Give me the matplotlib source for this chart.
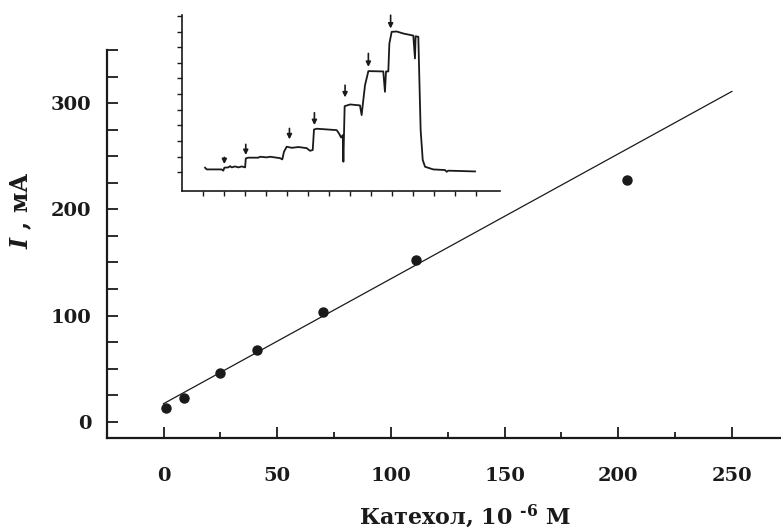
import matplotlib.pyplot as plt
from matplotlib.ticker import FixedLocator, NullFormatter

# calibration points: catechol concentration (10^-6 M) vs current
conc = [1, 9, 25, 41, 70, 111, 204]
current = [13, 22, 46, 68, 103, 152, 228]

# straight calibration line (end points)
fit_x = [0, 250]
fit_y = [17, 311]

# inset: amperometric trace, time / current in tick units
trace_t = [1.11, 1.19, 1.90, 1.98, 2.03, 2.22, 2.30, 2.38, 2.54, 2.70, 2.86, 3.02,
           3.05, 3.17, 3.65, 3.73, 4.05, 4.21, 4.68, 4.79, 4.87, 5.00, 5.24, 5.56,
           5.95, 6.11, 6.24, 6.30, 6.43, 7.38, 7.49, 7.59, 7.67, 7.70, 7.73, 7.76,
           8.02, 8.49, 8.57, 8.62, 8.73, 8.89, 9.60, 9.68, 9.73, 9.84, 9.89, 10.00,
           10.24, 10.56, 11.03, 11.11, 11.14, 11.27, 11.32, 11.38, 11.48, 11.59,
           11.98, 12.54, 12.62, 12.70, 13.97]
trace_i = [0.30, 0.19, 0.19, 0.11, 0.30, 0.32, 0.40, 0.32, 0.38, 0.32, 0.38, 0.32,
           0.89, 0.94, 0.94, 1.00, 0.96, 1.00, 0.91, 0.83, 1.32, 1.64, 1.57, 1.62,
           1.55, 1.38, 1.43, 2.74, 2.79, 2.70, 2.49, 2.23, 2.38, 0.68, 2.49, 4.23,
           4.34, 4.28, 3.66, 4.28, 5.57, 6.47, 6.45, 5.15, 6.45, 6.45, 8.23, 8.98,
           9.00, 8.87, 8.74, 7.28, 8.70, 8.66, 5.89, 2.70, 0.79, 0.36,
           0.19, 0.15, 0.04, 0.11, 0.06]

# injection arrows: position, top, tip
arrow_t = [2.03, 3.05, 5.13, 6.32, 7.78, 8.89, 9.95]
arrow_top = [0.96, 1.79, 2.81, 3.81, 5.57, 7.60, 10.04]
arrow_tip = [0.53, 1.11, 2.11, 3.02, 4.79, 6.74, 9.19]

ink = '#1a1a1a'
plt.rcParams['font.family'] = 'DejaVu Serif'
plt.rcParams['font.weight'] = 'bold'
plt.rcParams['mathtext.fontset'] = 'dejavuserif'
plt.rcParams['mathtext.default'] = 'bf'

fig = plt.figure(figsize=(7.81, 5.29), dpi=100)
ax = fig.add_axes([0.1366, 0.172, 0.8634, 0.7335])
ax.set_facecolor('none')

ax.plot(fit_x, fit_y, color=ink, lw=0.9)
ax.plot(conc, current, 'o', color=ink, markersize=6.5)

ax.set_xlim(-25, 271.6)
ax.set_ylim(-15.3, 350)
for s in ['top', 'right']:
    ax.spines[s].set_visible(False)
for s in ['left', 'bottom']:
    ax.spines[s].set_linewidth(1.6)
    ax.spines[s].set_color(ink)

ax.xaxis.set_major_locator(FixedLocator([0, 50, 100, 150, 200, 250]))
ax.xaxis.set_minor_locator(FixedLocator([25, 75, 125, 175, 225]))
ax.yaxis.set_major_locator(FixedLocator([0, 100, 200, 300]))
ax.yaxis.set_minor_locator(FixedLocator([25, 50, 75, 125, 150, 175, 225, 250, 275, 325, 350]))
ax.yaxis.set_minor_formatter(NullFormatter())
ax.tick_params(axis='x', which='major', direction='in', length=8, width=1.3, color=ink,
               pad=21, labelsize=14)
ax.tick_params(axis='x', which='minor', direction='in', length=4, width=1.3, color=ink)
ax.tick_params(axis='y', which='both', direction='in', length=8, width=1.3, color=ink,
               pad=11, labelsize=14)
for lab in ax.get_xticklabels() + ax.get_yticklabels():
    lab.set_fontweight('bold')
    lab.set_color(ink)

fig.text(465 / 781, 1 - 524 / 529, 'Катехол, 10 $^{\u20106}$ М', ha='center', va='baseline',
         fontsize=16, fontweight='bold', color=ink)
fig.text(21 / 781, 1 - 210 / 529, r'$\mathbfit{I}$ , мА', ha='center', va='center',
         rotation=90, fontsize=17, fontweight='bold', color=ink)

# inset with the current trace
ins = fig.add_axes([0.2327, 0.6395, 0.4075, 0.332])
ins.set_facecolor('none')
ins.plot(trace_t, trace_i, color=ink, lw=1.3)
for t, top, tip in zip(arrow_t, arrow_top, arrow_tip):
    ins.annotate('', xy=(t, tip), xytext=(t, top),
                 arrowprops=dict(arrowstyle='-|>', color=ink, lw=1.2,
                                 mutation_scale=7, shrinkA=0, shrinkB=0))
ins.set_xlim(0, 15.16)
ins.set_ylim(-1.17, 10.05)
for s in ['top', 'right']:
    ins.spines[s].set_visible(False)
for s in ['left', 'bottom']:
    ins.spines[s].set_linewidth(1.2)
    ins.spines[s].set_color(ink)
ins.set_xticks(range(1, 15))
ins.set_yticks(range(0, 11))
ins.tick_params(direction='out', length=3.5, width=1, color=ink,
                labelbottom=False, labelleft=False)

plt.savefig('out.png', dpi=100)
